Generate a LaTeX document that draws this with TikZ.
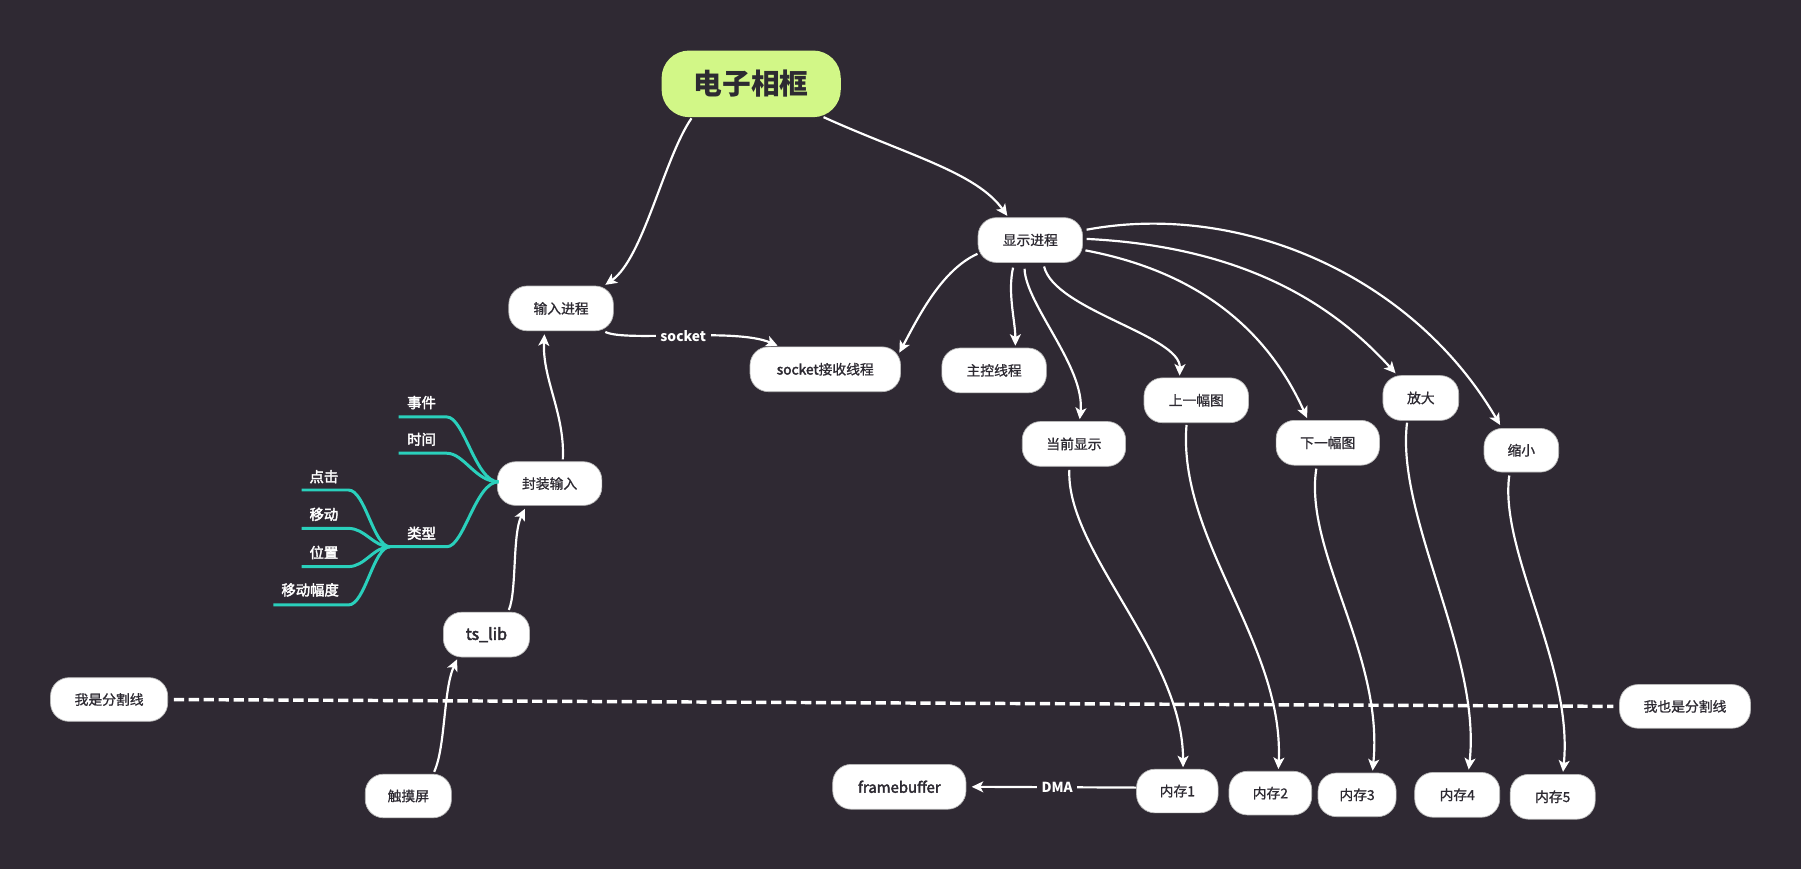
\documentclass[tikz,border=0pt]{standalone}
\usepackage{fontspec}
\setmainfont{Noto Sans CJK SC}[UprightFeatures={FakeBold=1.0}]
\newfontfamily\semib{Noto Sans CJK SC}[FakeBold=2.6]
\usetikzlibrary{calc,arrows.meta}
\definecolor{bg}{RGB}{47,41,51}
\definecolor{lime}{RGB}{210,247,135}
\definecolor{teal2}{RGB}{42,208,188}
\definecolor{ink}{RGB}{45,42,50}
\definecolor{rim}{RGB}{185,185,185}
\tikzset{
 box/.style={fill=white, draw=rim, line width=0.6pt, rounded corners=16pt, text=ink,
   font=\fontsize{12}{14}\selectfont, inner sep=0pt, minimum height=39pt},
 arr/.style={white, line width=1.9pt, -{Stealth[length=10pt,width=9.5pt,inset=2.5pt]}},
 lbl/.style={fill=bg, text=white, font=\bfseries\fontsize{12}{14}\selectfont, inner xsep=4pt, inner ysep=1pt},
 mm/.style={teal2, line width=2.6pt},
 mmtext/.style={text=white, font=\semib\fontsize{12.5}{14}\selectfont, inner sep=0pt},
}
\begin{document}
\begin{tikzpicture}[x=1pt,y=-1pt]
\fill[bg] (0,0) rectangle (1568,756.6);
\useasboundingbox (0,0) rectangle (1568,756.6);

% nodes
\node[box, fill=lime, draw=none, rounded corners=24pt, minimum width=156pt, minimum height=58pt,
  font=\bfseries\fontsize{25}{28}\selectfont] (title) at (654,73) {电子相框};
\node[box, minimum width=91pt] (inp) at (488.5,268.5) {输入进程};
\node[box, minimum width=131pt] (sock) at (718.5,321.5) {{\semib socket}接收线程};
\node[box, minimum width=91pt] (ctrl) at (865.5,322.5) {主控线程};
\node[box, minimum width=91pt] (disp) at (897,209) {显示进程};
\node[box, minimum width=90pt] (cur) at (935,386.5) {当前显示};
\node[box, minimum width=91pt] (prev) at (1041.5,348.5) {上一幅图};
\node[box, minimum width=90pt] (next) at (1156,385.5) {下一幅图};
\node[box, minimum width=66pt] (zin) at (1237,346.5) {放大};
\node[box, minimum width=65pt, minimum height=38pt] (zout) at (1324.5,392) {缩小};
\node[box, minimum width=91pt, minimum height=38pt] (pack) at (478.5,421) {封装输入};
\node[box, minimum width=75pt, font=\semib\fontsize{14}{16}\selectfont] (ts) at (423.5,552.5) {ts\_lib};
\node[box, minimum width=102pt, minimum height=38pt] (sep1) at (95,609) {我是分割线};
\node[box, minimum width=114pt, minimum height=38pt] (sep2) at (1467,615) {我也是分割线};
\node[box, minimum width=75pt, minimum height=38pt] (touch) at (355.5,693) {触摸屏};
\node[box, minimum width=116pt, font=\semib\fontsize{13}{15}\selectfont] (fb) at (783,685) {framebuffer};
\node[box, minimum width=71pt, minimum height=38pt] (m1) at (1025,688.7) {内存1};
\node[box, minimum width=72pt, minimum height=38pt] (m2) at (1106,690.5) {内存2};
\node[box, minimum width=68pt, minimum height=38pt] (m3) at (1181.5,692) {内存3};
\node[box, minimum width=74pt] (m4) at (1268.7,692) {内存4};
\node[box, minimum width=74pt] (m5) at (1351.8,693.7) {内存5};

% dashed separator
\draw[white, line width=3pt, dash pattern=on 9pt off 4pt, shorten <=5pt, shorten >=5pt] (sep1.east) -- (sep2.west);

% arrows
\draw[arr] ($(title.center)+(-52,30)$) .. controls (578,138) and (560,225) .. ($(inp.center)+(38.5,-20.5)$);
\draw[arr] ($(title.center)+(63,29)$) .. controls (790,135) and (850,150) .. ($(disp.center)+(-20,-21)$);
\draw[arr] ($(inp.center)+(38.5,20.5)$) .. controls (545,298) and (640,285) .. node[lbl, pos=0.5] (socklbl) {socket} ($(sock.center)+(-41.5,-20.5)$);
\draw[arr] ($(disp.center)+(-46,12)$) .. controls (820,235) and (800,275) .. ($(sock.center)+(64.5,-14.5)$);
\draw[arr] ($(disp.center)+(-15,24)$) .. controls (877,255) and (884,280) .. ($(ctrl.center)+(18.5,-21.5)$);
\draw[arr] ($(disp.center)+(-5,25)$) .. controls (893,265) and (945,320) .. ($(cur.center)+(5,-21.5)$);
\draw[arr] ($(disp.center)+(12,23)$) .. controls (918,270) and (1028,292) .. ($(prev.center)+(-14.5,-21.5)$);
\draw[arr] ($(disp.center)+(48,9)$) .. controls (1035,235) and (1100,280) .. ($(next.center)+(-18,-21.5)$);
\draw[arr] ($(disp.center)+(49,-1)$) .. controls (1090,215) and (1165,270) .. ($(zin.center)+(-22,-21.5)$);
\draw[arr] ($(disp.center)+(49,-9)$) .. controls (1080,175) and (1230,240) .. ($(zout.center)+(-18.5,-22)$);

\draw[arr] ($(cur.center)+(-4,22.5)$) .. controls (928,480) and (1030,570) .. ($(m1.center)+(5,-20.7)$);
\draw[arr] ($(prev.center)+(-8.5,21.5)$) .. controls (1025,470) and (1118,560) .. ($(m2.center)+(7,-21)$);
\draw[arr] ($(next.center)+(-10,22.5)$) .. controls (1135,480) and (1205,570) .. ($(m3.center)+(13.5,-21)$);
\draw[arr] ($(zin.center)+(-12,21.5)$) .. controls (1215,450) and (1290,570) .. ($(m4.center)+(10,-22)$);
\draw[arr] ($(zout.center)+(-10.5,22)$) .. controls (1305,480) and (1370,580) .. ($(m5.center)+(9,-21.7)$);

\draw[arr] ($(pack.center)+(11.5,-21)$) .. controls (492,360) and (472,330) .. ($(inp.center)+(-14.5,22.5)$);
\draw[arr] ($(ts.center)+(19.5,-21.5)$) .. controls (450,515) and (446,465) .. ($(pack.center)+(-21.5,22)$);
\draw[arr] ($(touch.center)+(22.5,-21)$) .. controls (388,650) and (386,600) .. ($(ts.center)+(-25.5,21.5)$);
\draw[arr] ($(m1.center)+(-36,-3)$) -- node[lbl, pos=0.48] (dmalbl) {DMA} ($(fb.center)+(63,0)$);

% mind map branches
\coordinate (J1) at (434,419.5);
\coordinate (J2) at (339.6,476);
\node[mmtext] (t1) at (367,350.5) {事件};
\node[mmtext] (t2) at (367,382.5) {时间};
\node[mmtext] (t3) at (367,464.3) {类型};
\node[mmtext] (t4) at (282,415) {点击};
\node[mmtext] (t5) at (282,447.8) {移动};
\node[mmtext] (t6) at (282,481) {位置};
\node[mmtext] (t7) at (270,513.6) {移动幅度};
\draw[mm] (347,363) -- (389,363) .. controls (404,363) and (414,419.5) .. (J1);
\draw[mm] (347,394.6) -- (389,394.6) .. controls (404,394.6) and (414,419.5) .. (J1);
\draw[mm] (J2) -- (389,476) .. controls (404,476) and (414,419.5) .. (J1);
\draw[mm] (262.7,426.6) -- (303.3,426.6) .. controls (318,426.6) and (325,476) .. (J2);
\draw[mm] (262.7,460) -- (303.3,460) .. controls (318,460) and (325,476) .. (J2);
\draw[mm] (262.7,493.3) -- (303.3,493.3) .. controls (318,493.3) and (325,476) .. (J2);
\draw[mm] (238,526.7) -- (303.3,526.7) .. controls (318,526.7) and (325,476) .. (J2);
\end{tikzpicture}
\end{document}
